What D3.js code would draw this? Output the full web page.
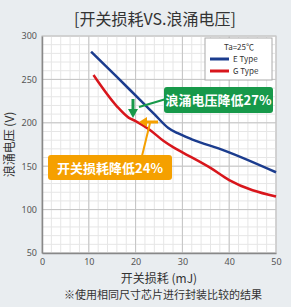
<!DOCTYPE html>
<html>
<head>
<meta charset="utf-8">
<script src="https://cdn.jsdelivr.net/npm/d3@7"></script>
<style>
  body { margin: 0; background: #e9edf0; }
  svg { display: block; font-family: "Noto Sans CJK SC", "Noto Sans", sans-serif; }
</style>
</head>
<body>
<div id="chart"></div>
<script>
// switching loss (mJ) vs surge voltage (V)
const eTypeLoss = [10.5, 16, 21, 24, 27, 29, 32, 39, 50];
const eTypeVolt = [282, 253, 226, 210, 194, 188, 181, 168, 143];
const gTypeLoss = [11, 16, 18.5, 20, 23, 26, 28, 30, 36, 40, 50];
const gTypeVolt = [255, 219, 206, 202, 192, 179, 172, 166, 148, 134, 115];
const xTicks = [0, 10, 20, 30, 40, 50];
const yTicks = [50, 100, 150, 200, 250, 300];
const seriesNames = ['E Type', 'G Type'];

const W = 291, H = 307;
const margin = {top: 36, right: 15, bottom: 54, left: 42};
const width = W - margin.left - margin.right,
    height = H - margin.top - margin.bottom;

const svg = d3.select('#chart').append('svg')
    .attr('width', W)
    .attr('height', H);

svg.append('text')
    .attr('x', 155).attr('y', 25)
    .attr('text-anchor', 'middle')
    .attr('font-size', 16)
    .attr('fill', '#333')
    .text('[开关损耗VS.浪涌电压]');

const g = svg.append('g')
    .attr('transform', 'translate(' + margin.left + ',' + margin.top + ')');

const x = d3.scaleLinear().domain([0, 50]).range([0, width]);
const y = d3.scaleLinear().domain([50, 300]).range([height, 0]);

g.append('rect')
    .attr('width', width).attr('height', height)
    .attr('fill', '#fff')
    .attr('stroke', '#bbb');

// minor grid
g.append('g').selectAll('line')
    .data(d3.range(0, 51, 2))
  .enter().append('line')
    .attr('x1', d => x(d)).attr('x2', d => x(d))
    .attr('y1', 0).attr('y2', height)
    .attr('stroke', '#e6e6e6');
g.append('g').selectAll('line')
    .data(d3.range(50, 301, 10))
  .enter().append('line')
    .attr('y1', d => y(d)).attr('y2', d => y(d))
    .attr('x1', 0).attr('x2', width)
    .attr('stroke', '#e6e6e6');

// major grid
g.append('g').selectAll('line')
    .data(xTicks)
  .enter().append('line')
    .attr('x1', d => x(d)).attr('x2', d => x(d))
    .attr('y1', 0).attr('y2', height)
    .attr('stroke', '#c4c4c4');
g.append('g').selectAll('line')
    .data(yTicks)
  .enter().append('line')
    .attr('y1', d => y(d)).attr('y2', d => y(d))
    .attr('x1', 0).attr('x2', width)
    .attr('stroke', '#c4c4c4');

// axes
const xAxis = d3.axisBottom(x).tickValues(xTicks).tickSize(0).tickPadding(6);
const yAxis = d3.axisLeft(y).tickValues(yTicks).tickSize(0).tickPadding(5);

g.append('g')
    .attr('class', 'x axis')
    .attr('transform', 'translate(0,' + height + ')')
    .call(xAxis);
g.append('g')
    .attr('class', 'y axis')
    .call(yAxis);

g.selectAll('.axis text')
    .attr('font-size', 9)
    .attr('fill', '#555')
    .attr('font-family', '"Noto Sans", sans-serif');
g.selectAll('.axis path')
    .attr('stroke', '#888')
    .attr('stroke-width', 1.5);

svg.append('text')
    .attr('transform', 'translate(14,' + (margin.top + height / 2) + ') rotate(-90)')
    .attr('text-anchor', 'middle')
    .attr('font-size', 12)
    .attr('fill', '#333')
    .text('浪涌电压 (V)');

svg.append('text')
    .attr('x', 159).attr('y', 283)
    .attr('text-anchor', 'middle')
    .attr('font-size', 12)
    .attr('fill', '#333')
    .text('开关损耗 (mJ)');

svg.append('text')
    .attr('x', 163).attr('y', 299)
    .attr('text-anchor', 'middle')
    .attr('font-size', 11)
    .attr('fill', '#333')
    .text('※使用相同尺寸芯片进行封装比较的结果');

// curves
const line = d3.line()
    .x(d => x(d[0]))
    .y(d => y(d[1]))
    .curve(d3.curveMonotoneX);

const series = [
  {name: seriesNames[0], color: '#1b3c8e', pts: d3.zip(eTypeLoss, eTypeVolt)},
  {name: seriesNames[1], color: '#d8161c', pts: d3.zip(gTypeLoss, gTypeVolt)}
];

g.selectAll('.curve')
    .data(series)
  .enter().append('path')
    .attr('class', 'curve')
    .attr('d', d => line(d.pts))
    .attr('fill', 'none')
    .attr('stroke', d => d.color)
    .attr('stroke-width', 2.5);

// legend
const legend = svg.append('g').attr('transform', 'translate(205,38)');
legend.append('rect')
    .attr('width', 67).attr('height', 42)
    .attr('fill', '#fff')
    .attr('stroke', '#aaa');
legend.append('text')
    .attr('x', 34).attr('y', 12)
    .attr('text-anchor', 'middle')
    .attr('font-size', 8)
    .attr('fill', '#333')
    .text('Ta=25℃');
series.forEach((s, i) => {
  legend.append('line')
      .attr('x1', 5).attr('x2', 24)
      .attr('y1', 21 + i * 12).attr('y2', 21 + i * 12)
      .attr('stroke', s.color)
      .attr('stroke-width', 3);
  legend.append('text')
      .attr('x', 28).attr('y', 24 + i * 12)
      .attr('font-size', 8)
      .attr('fill', '#333')
      .text(s.name);
});

// annotations
const green = '#17994a', orange = '#f5a000';

// green: leader + down arrow
svg.append('line')
    .attr('x1', 166).attr('y1', 99)
    .attr('x2', 139).attr('y2', 107)
    .attr('stroke', green).attr('stroke-width', 2);
svg.append('line')
    .attr('x1', 133).attr('y1', 99)
    .attr('x2', 133).attr('y2', 110)
    .attr('stroke', green).attr('stroke-width', 3);
svg.append('path')
    .attr('d', 'M128,109 L138,109 L133,118 Z')
    .attr('fill', green);
svg.append('rect')
    .attr('x', 164).attr('y', 87)
    .attr('width', 109).attr('height', 26)
    .attr('rx', 3)
    .attr('fill', green);
svg.append('text')
    .attr('x', 218.5).attr('y', 105)
    .attr('text-anchor', 'middle')
    .attr('font-size', 13)
    .attr('font-weight', 'bold')
    .attr('fill', '#fff')
    .text('浪涌电压降低27%');

// orange: leader + left arrow
svg.append('line')
    .attr('x1', 142).attr('y1', 156)
    .attr('x2', 150).attr('y2', 123)
    .attr('stroke', orange).attr('stroke-width', 2);
svg.append('line')
    .attr('x1', 146).attr('y1', 122)
    .attr('x2', 158).attr('y2', 122)
    .attr('stroke', orange).attr('stroke-width', 3);
svg.append('path')
    .attr('d', 'M147,117 L147,127 L139,122 Z')
    .attr('fill', orange);
svg.append('rect')
    .attr('x', 48).attr('y', 155)
    .attr('width', 124).attr('height', 25)
    .attr('rx', 3)
    .attr('fill', orange);
svg.append('text')
    .attr('x', 110).attr('y', 172.5)
    .attr('text-anchor', 'middle')
    .attr('font-size', 13)
    .attr('font-weight', 'bold')
    .attr('fill', '#fff')
    .text('开关损耗降低24%');
</script>
</body>
</html>
